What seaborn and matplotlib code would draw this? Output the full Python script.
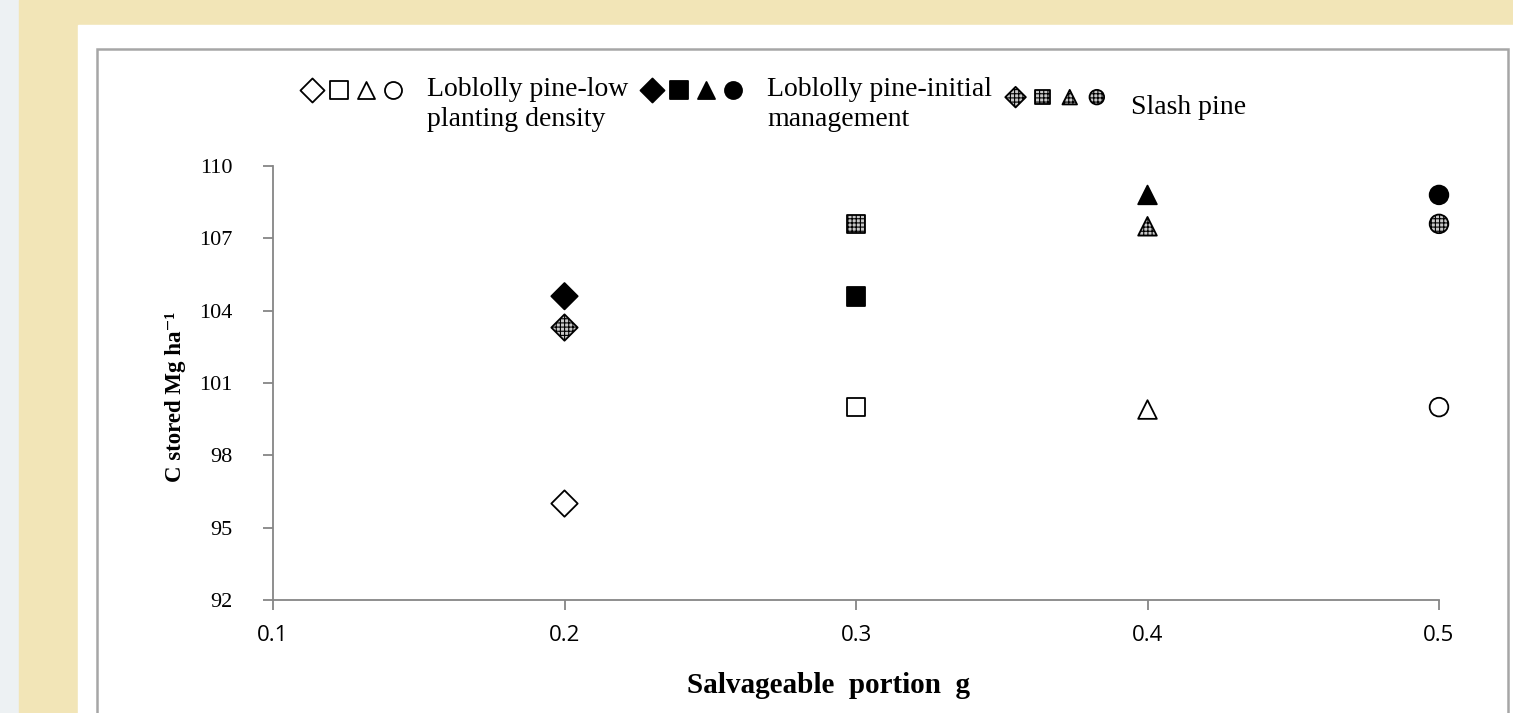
import numpy as np
import pandas as pd
import matplotlib
matplotlib.use("Agg")
import matplotlib.pyplot as plt
import seaborn as sns
from matplotlib.patches import Rectangle
from matplotlib.legend_handler import HandlerTuple

# values
g_vals = [0.2, 0.3, 0.4, 0.5]
low_density = [96.0, 100.0, 99.9, 100.0]
initial_mgmt = [104.6, 104.6, 108.8, 108.8]
slash_pine = [103.3, 107.6, 107.5, 107.6]
y_ticks = [92, 95, 98, 101, 104, 107, 110]
x_ticks = [0.1, 0.2, 0.3, 0.4, 0.5]
labels = ["Loblolly pine-low\nplanting density",
          "Loblolly pine-initial\nmanagement",
          "Slash pine"]

shape_for_g = {0.2: "D", 0.3: "s", 0.4: "^", 0.5: "o"}
styles = [
    dict(color="white", edgecolor="black"),
    dict(color="black", edgecolor="black"),
    dict(color="#c8c8c8", edgecolor="black", hatch="++++"),
]

df = pd.concat([
    pd.DataFrame({"g": g_vals, "C": v, "group": lab})
    for v, lab in zip([low_density, initial_mgmt, slash_pine], labels)
])

sns.set_style("white")
plt.rcParams["font.family"] = ["Liberation Serif", "DejaVu Serif"]
plt.rcParams["text.color"] = "black"
plt.rcParams["axes.labelcolor"] = "black"
plt.rcParams["hatch.linewidth"] = 0.8

W, H = 1513, 713
fig = plt.figure(figsize=(W / 100, H / 100), dpi=100)
fig.patch.set_facecolor("#edf1f3")
fig.patches.extend([
    Rectangle((19 / W, 0), 1, 1, transform=fig.transFigure, color="#f2e5b7", zorder=-3),
    Rectangle((78 / W, 0), 1, 1 - 25 / H, transform=fig.transFigure, color="white", zorder=-2),
    Rectangle((97 / W, -0.1), (1508 - 97) / W, (H - 49) / H + 0.1, transform=fig.transFigure,
              fill=False, edgecolor="#a6a6a6", lw=1.8, zorder=-1),
])

ax = fig.add_axes([273 / W, 1 - 600 / H, (1439 - 273) / W, (600 - 166) / H])
ax.set_facecolor("none")

for lab, st in zip(labels, styles):
    sns.scatterplot(data=df[df["group"] == lab], x="g", y="C", style="g",
                    markers=shape_for_g, s=180, linewidth=1.3, legend=False,
                    clip_on=False, zorder=3, ax=ax, **st)

ax.set_xlim(0.1, 0.5)
ax.set_ylim(92, 110)
ax.set_xticks(x_ticks)
ax.set_xticklabels([f"{t:.1f}" for t in x_ticks], family="Open Sans", fontsize=16)
ax.set_yticks(y_ticks)
ax.set_yticklabels([str(t) for t in y_ticks], fontsize=16)
ax.tick_params(axis="x", direction="out", length=7, width=1.3, color="#868686",
               labelcolor="black", pad=11, bottom=True)
ax.tick_params(axis="y", direction="out", length=7, width=1.3, color="#868686",
               labelcolor="black", pad=22, left=True)
for side in ["top", "right"]:
    ax.spines[side].set_visible(False)
for side in ["left", "bottom"]:
    ax.spines[side].set_color("#868686")
    ax.spines[side].set_linewidth(1.3)

ax.set_xlabel("Salvageable  portion  g", fontsize=21, fontweight="bold")
ax.set_ylabel("C stored Mg ha\u207b\u00b9", fontsize=16.5, fontweight="bold")
ax.xaxis.set_label_coords(0.476, -0.167)
ax.yaxis.set_label_coords(-0.0746, 0.468)


class RaisedTuple(HandlerTuple):
    """Tuple handler that lifts its markers up to the first text line."""

    def __init__(self, lift=0.0):
        super().__init__(ndivide=None, pad=0.0)
        self.lift = lift

    def create_artists(self, legend, orig_handle, xdescent, ydescent, width, height,
                       fontsize, trans):
        arts = super().create_artists(legend, orig_handle, xdescent, ydescent, width,
                                      height, fontsize, trans)
        for a in arts:
            a.set_offsets(a.get_offsets() + np.array([0.0, self.lift * fontsize]))
        return arts


handles = []
for st, size in zip(styles, [150, 150, 110]):
    handles.append(tuple(
        ax.scatter([], [], marker=m, s=size, linewidth=1.3, facecolor=st["color"],
                   edgecolor=st["edgecolor"], hatch=st.get("hatch"))
        for m in ["D", "s", "^", "o"]))
lifts = [0.6, 0.6, 0.35]
hmap = {h: RaisedTuple(lift=lf) for h, lf in zip(handles, lifts)}

leg = fig.legend(handles, labels, handler_map=hmap, loc="upper left",
                 bbox_to_anchor=(298 / W, 1 - 77 / H), ncol=3, frameon=False,
                 fontsize=20, handlelength=3.9, handletextpad=0.75, columnspacing=0.35,
                 borderpad=0, borderaxespad=0, scatterpoints=1)
for t in leg.get_texts():
    t.set_linespacing(1.28)

fig.savefig("out.png", dpi=100)
